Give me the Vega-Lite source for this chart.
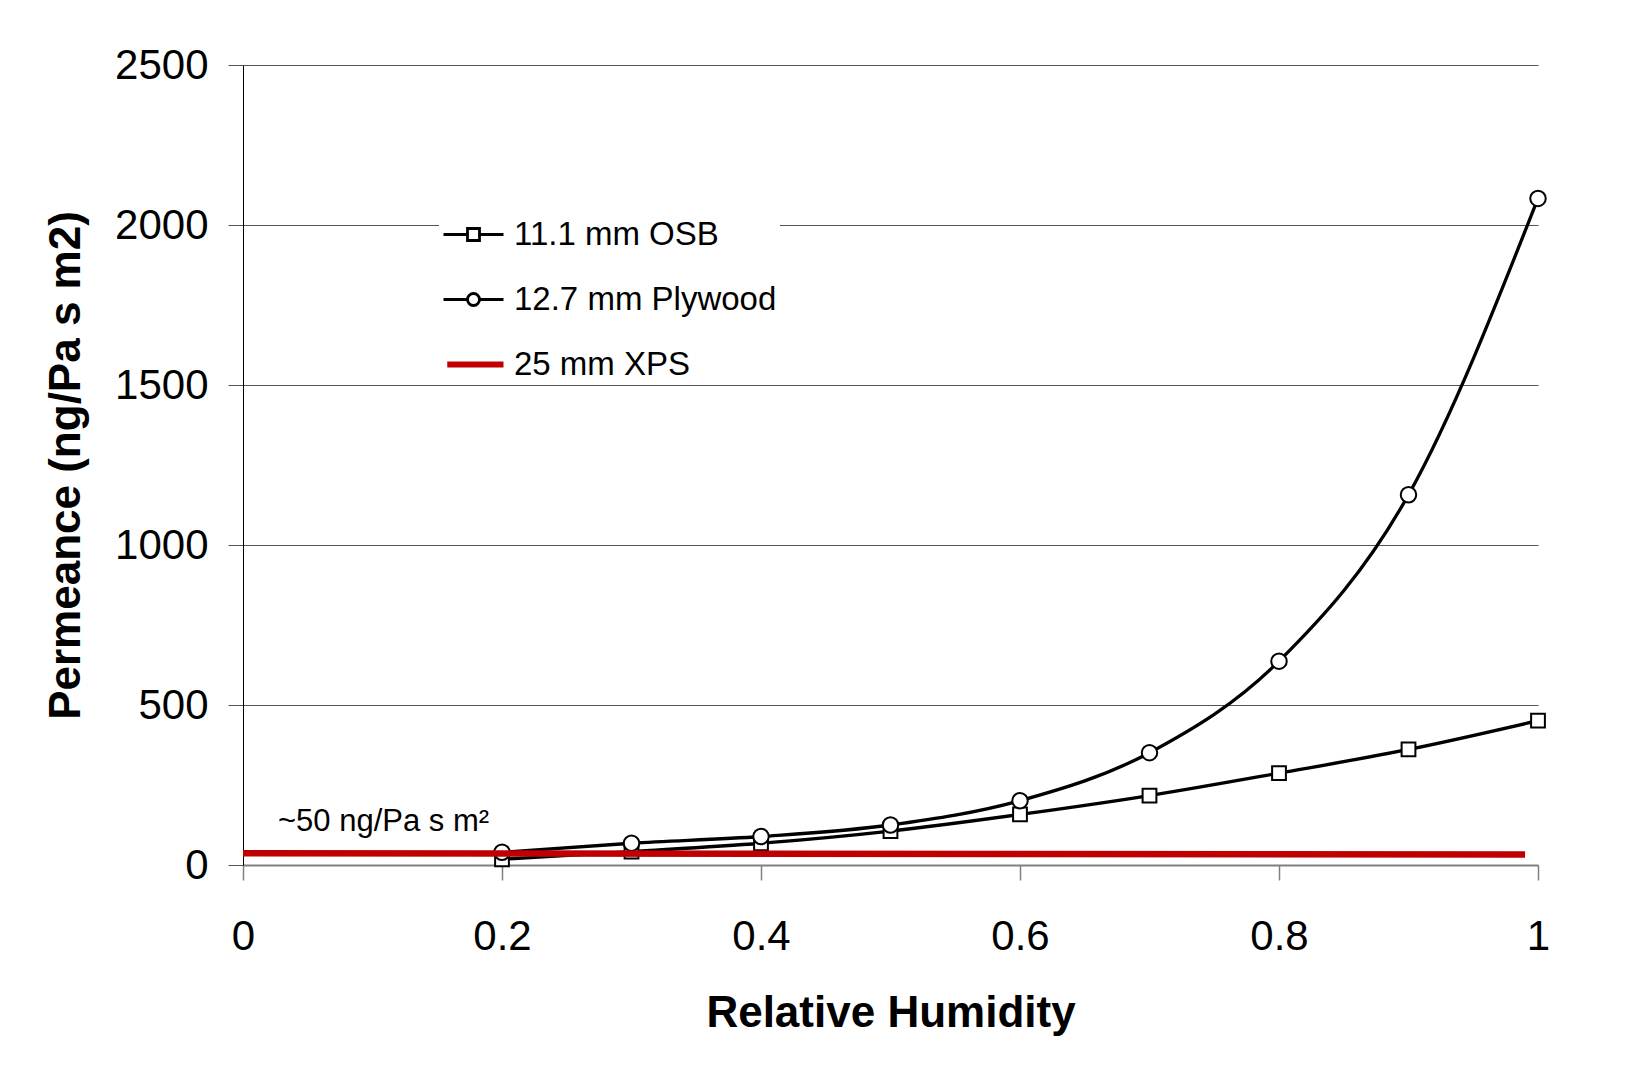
{
  "$schema": "https://vega.github.io/schema/vega-lite/v6.json",
  "width": 1295,
  "height": 800,
  "autosize": {"type": "none"},
  "padding": {"left": 243, "top": 65, "right": 87, "bottom": 200},
  "background": "white",
  "config": {"view": {"stroke": null}, "font": "Liberation Sans"},
  "datasets": {
    "perm": [
      {"rh": 0.2, "perm": 18, "series": "11.1 mm OSB"},
      {"rh": 0.3, "perm": 42, "series": "11.1 mm OSB"},
      {"rh": 0.4, "perm": 68, "series": "11.1 mm OSB"},
      {"rh": 0.5, "perm": 106, "series": "11.1 mm OSB"},
      {"rh": 0.6, "perm": 158, "series": "11.1 mm OSB"},
      {"rh": 0.7, "perm": 217, "series": "11.1 mm OSB"},
      {"rh": 0.8, "perm": 287, "series": "11.1 mm OSB"},
      {"rh": 0.9, "perm": 361, "series": "11.1 mm OSB"},
      {"rh": 1.0, "perm": 451, "series": "11.1 mm OSB"},
      {"rh": 0.2, "perm": 40, "series": "12.7 mm Plywood"},
      {"rh": 0.3, "perm": 68, "series": "12.7 mm Plywood"},
      {"rh": 0.4, "perm": 89, "series": "12.7 mm Plywood"},
      {"rh": 0.5, "perm": 125, "series": "12.7 mm Plywood"},
      {"rh": 0.6, "perm": 201, "series": "12.7 mm Plywood"},
      {"rh": 0.7, "perm": 351, "series": "12.7 mm Plywood"},
      {"rh": 0.8, "perm": 637, "series": "12.7 mm Plywood"},
      {"rh": 0.9, "perm": 1157, "series": "12.7 mm Plywood"},
      {"rh": 1.0, "perm": 2083, "series": "12.7 mm Plywood"},
      {"rh": 0.0, "perm": 37, "series": "25 mm XPS"},
      {"rh": 0.99, "perm": 33, "series": "25 mm XPS"}
    ],
    "note": [
      {"rh": 0.027, "perm": 134, "label": "~50 ng/Pa s m²"}
    ]
  },
  "data": {"name": "perm"},
  "encoding": {
    "x": {
      "field": "rh", "type": "quantitative",
      "scale": {"domain": [0, 1], "nice": false},
      "axis": {
        "title": "Relative Humidity",
        "titleFont": "Liberation Sans", "titleFontSize": 44, "titleFontWeight": "bold", "titleColor": "black",
        "labelFont": "Liberation Sans", "labelFontSize": 42, "labelColor": "black",
        "values": [0, 0.2, 0.4, 0.6, 0.8, 1], "format": "~g", "labelFlush": false,
        "grid": false,
        "domainColor": "#808080", "domainWidth": 2,
        "tickColor": "#808080", "tickWidth": 1.5, "tickSize": 15,
        "labelPadding": 36, "titlePadding": 34
      }
    },
    "y": {
      "field": "perm", "type": "quantitative",
      "scale": {"domain": [0, 2500], "nice": false},
      "axis": {
        "title": "Permeance (ng/Pa s m2)",
        "titleFont": "Liberation Sans", "titleFontSize": 44, "titleFontWeight": "bold", "titleColor": "black",
        "labelFont": "Liberation Sans", "labelFontSize": 42, "labelColor": "black",
        "values": [0, 500, 1000, 1500, 2000, 2500], "format": "d",
        "grid": true, "gridColor": "#555555", "gridWidth": 1,
        "domainColor": "black", "domainWidth": 1,
        "tickColor": "#555555", "tickWidth": 1, "tickSize": 15,
        "labelPadding": 20, "titlePadding": 26
      }
    }
  },
  "layer": [
    {
      "transform": [{"filter": "datum.series !== '25 mm XPS'"}],
      "mark": {"type": "line", "strokeWidth": 3.3, "interpolate": "monotone"},
      "encoding": {
        "color": {
          "field": "series", "type": "nominal",
          "scale": {"domain": ["11.1 mm OSB", "12.7 mm Plywood", "25 mm XPS"], "range": ["black", "black", "#C00000"]},
          "legend": {
            "orient": "none", "legendX": 196, "legendY": 150,
            "title": null, "fillColor": "white", "padding": 3,
            "labelFont": "Liberation Sans", "labelFontSize": 33, "labelColor": "black", "labelLimit": 600,
            "symbolSize": 900, "symbolOffset": 15, "labelOffset": 24, "rowPadding": 31,
            "symbolType": "stroke",
            "encode": {
              "symbols": {
                "update": {
                  "shape": {"signal": "datum.value === '11.1 mm OSB' ? 'M-2,0H-0.4M0.4,0H2M-0.4,-0.4H0.4V0.4H-0.4Z' : (datum.value === '12.7 mm Plywood' ? 'M-2,0H-0.4M0.4,0H2M-0.4,0A0.4,0.4,0,1,1,0.4,0A0.4,0.4,0,1,1,-0.4,0Z' : 'M-1.75,-0.2H2V0.2H-1.75Z')"},
                  "fill": {"signal": "datum.value === '25 mm XPS' ? '#C00000' : 'white'"},
                  "stroke": {"signal": "datum.value === '25 mm XPS' ? '#C00000' : 'black'"},
                  "strokeWidth": {"signal": "datum.value === '25 mm XPS' ? 0 : 2.8"},
                  "opacity": {"value": 1},
                  "fillOpacity": {"value": 1},
                  "strokeOpacity": {"value": 1}
                }
              }
            }
          }
        }
      }
    },
    {
      "transform": [{"filter": "datum.series === '11.1 mm OSB'"}],
      "mark": {"type": "point", "shape": "square", "size": 190, "filled": true, "fill": "white", "stroke": "black", "strokeWidth": 2, "opacity": 1}
    },
    {
      "transform": [{"filter": "datum.series === '12.7 mm Plywood'"}],
      "mark": {"type": "point", "shape": "circle", "size": 240, "filled": true, "fill": "white", "stroke": "black", "strokeWidth": 2, "opacity": 1}
    },
    {
      "transform": [{"filter": "datum.series === '25 mm XPS'"}],
      "mark": {"type": "line", "strokeWidth": 6.5},
      "encoding": {
        "color": {
          "field": "series", "type": "nominal",
          "scale": {"domain": ["11.1 mm OSB", "12.7 mm Plywood", "25 mm XPS"], "range": ["black", "black", "#C00000"]}
        }
      }
    },
    {
      "data": {"name": "note"},
      "mark": {"type": "text", "align": "left", "baseline": "middle", "font": "Liberation Sans", "fontSize": 31, "color": "black"},
      "encoding": {"text": {"field": "label", "type": "nominal"}}
    }
  ]
}
